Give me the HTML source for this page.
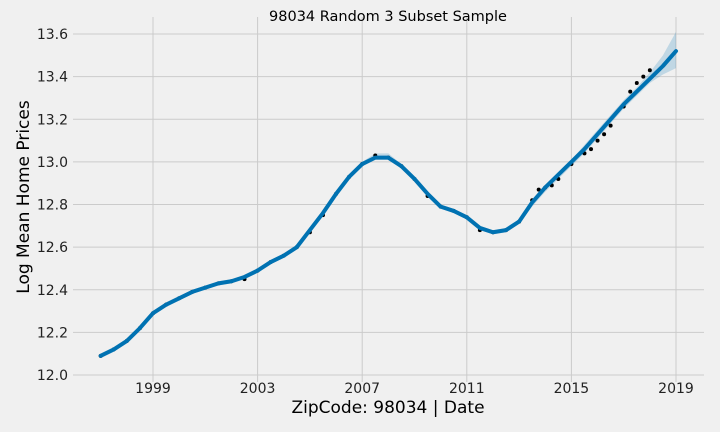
<!DOCTYPE html>
<html><head><meta charset="utf-8"><style>
body{margin:0;background:#f0f0f0;}
svg{display:block;font-family:"DejaVu Sans","Liberation Sans",sans-serif;}
</style></head><body>
<svg id="chart" width="720" height="432">
<rect width="720" height="432" fill="#f0f0f0"/>
<g id="grid"></g><g id="marks"></g><g id="axes"></g>
<text x="388" y="21" text-anchor="middle" font-size="14.5" fill="#000">98034 Random 3 Subset Sample</text>
<text x="388" y="413" text-anchor="middle" font-size="17" fill="#000">ZipCode: 98034 | Date</text>
<text x="0" y="0" transform="translate(29,197) rotate(-90)" text-anchor="middle" font-size="17" fill="#000">Log Mean Home Prices</text>
</svg>
<script>
const years=[1997,1997.5,1998,1998.5,1999,1999.5,2000,2000.5,2001,2001.5,2002,2002.5,2003,2003.5,2004,2004.5,2005,2005.5,2006,2006.5,2007,2007.5,2008,2008.5,2009,2009.5,2010,2010.5,2011,2011.5,2012,2012.5,2013,2013.5,2014,2014.5,2015,2015.5,2016,2016.5,2017,2017.5,2018,2018.5,2019];
const yhat=[12.09,12.12,12.16,12.22,12.29,12.33,12.36,12.39,12.41,12.43,12.44,12.46,12.49,12.53,12.56,12.60,12.68,12.76,12.85,12.93,12.99,13.02,13.02,12.98,12.92,12.85,12.79,12.77,12.74,12.69,12.67,12.68,12.72,12.81,12.88,12.94,13.00,13.06,13.13,13.20,13.27,13.33,13.39,13.45,13.52];
const yLower=[12.08,12.11,12.15,12.21,12.28,12.32,12.35,12.38,12.40,12.42,12.43,12.45,12.48,12.52,12.55,12.59,12.67,12.75,12.84,12.92,12.98,13.01,13.01,12.97,12.91,12.84,12.78,12.76,12.73,12.68,12.66,12.67,12.71,12.79,12.86,12.92,12.98,13.04,13.11,13.18,13.25,13.31,13.37,13.41,13.44];
const yUpper=[12.10,12.13,12.17,12.23,12.30,12.34,12.37,12.40,12.42,12.44,12.45,12.47,12.50,12.54,12.57,12.61,12.69,12.77,12.86,12.94,13.00,13.04,13.04,12.99,12.93,12.86,12.80,12.78,12.75,12.70,12.68,12.69,12.73,12.82,12.89,12.95,13.01,13.08,13.15,13.22,13.29,13.35,13.42,13.50,13.61];
const obsYears=[1997,1997.5,1998,1998.5,1999,1999.5,2000,2000.5,2001,2001.5,2002,2002.5,2003,2003.5,2004,2004.5,2005,2005.5,2006,2006.5,2007,2007.5,2008,2008.5,2009,2009.5,2010,2010.5,2011,2011.5,2012,2012.5,2013,2013.5,2013.75,2014,2014.25,2014.5,2015,2015.5,2015.75,2016,2016.25,2016.5,2017,2017.25,2017.5,2017.75,2018];
const obs=[12.09,12.12,12.16,12.22,12.29,12.33,12.36,12.39,12.41,12.43,12.44,12.45,12.49,12.53,12.56,12.60,12.67,12.75,12.85,12.93,12.99,13.03,13.02,12.98,12.92,12.84,12.79,12.77,12.74,12.68,12.67,12.68,12.72,12.82,12.87,12.88,12.89,12.92,12.99,13.04,13.06,13.10,13.13,13.17,13.26,13.33,13.37,13.40,13.43];
const xTicks=[1999,2003,2007,2011,2015,2019];
const yTicks=[12.0,12.2,12.4,12.6,12.8,13.0,13.2,13.4,13.6];
const NS='http://www.w3.org/2000/svg';
const X=t=>153+(t-1999)*26.15;
const Y=v=>375-(v-12)*213.1;
function mk(tag,attrs,parent){const e=document.createElementNS(NS,tag);for(const k in attrs)e.setAttribute(k,attrs[k]);parent.appendChild(e);return e;}
const grid=document.getElementById('grid'),marks=document.getElementById('marks'),axes=document.getElementById('axes');
yTicks.forEach(v=>{
  const l=mk('line',{x1:73,x2:704,y1:Y(v),y2:Y(v),stroke:'#cbcbcb','stroke-width':1},grid);
  
  
  const t=mk('text',{x:68,y:Y(v)+5,'text-anchor':'end','font-size':14,fill:'#222'},axes);
  t.textContent=v.toFixed(1);
  
  
});
xTicks.forEach(v=>{
  const l=mk('line',{x1:X(v),x2:X(v),y1:17,y2:382,stroke:'#cbcbcb','stroke-width':1},grid);
  
  
  const t=mk('text',{x:X(v),y:393,'text-anchor':'middle','font-size':14,fill:'#222'},axes);
  t.textContent=v;
  
  
});
let d='M'+years.map((t,i)=>X(t)+','+Y(yUpper[i])).join('L');
for(let i=years.length-1;i>=0;i--)d+='L'+X(years[i])+','+Y(yLower[i]);
const band=mk('path',{d:d+'Z',fill:'#0072B2','fill-opacity':0.2},marks);


obsYears.forEach((t,i)=>{
  const c=mk('circle',{cx:X(t),cy:Y(obs[i]),r:2,fill:'#000'},marks);
  
  
});
const line=mk('polyline',{points:years.map((t,i)=>X(t)+','+Y(yhat[i])).join(' '),fill:'none',stroke:'#0072B2','stroke-width':4,'stroke-linejoin':'round','stroke-linecap':'round'},marks);


</script>
</body></html>
